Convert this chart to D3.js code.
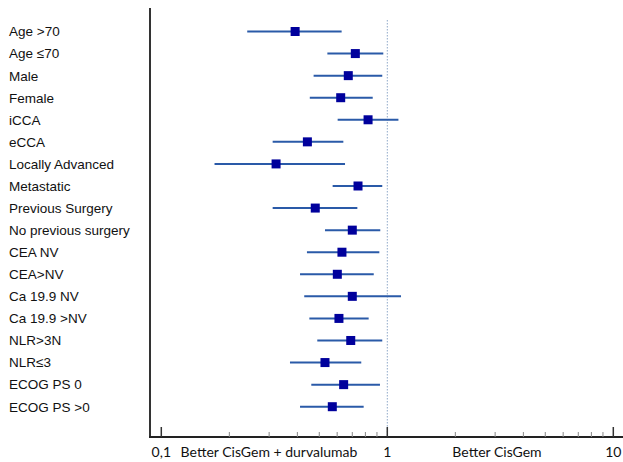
<!DOCTYPE html>
<html><head><meta charset="utf-8">
<script src="https://cdn.jsdelivr.net/npm/d3@7"></script>
<style>body{margin:0;background:#fff}</style>
</head><body>
<svg id="c" width="623" height="462"></svg>
<script>
const categories = ["Age >70","Age ≤70","Male","Female","iCCA","eCCA","Locally Advanced","Metastatic","Previous Surgery","No previous surgery","CEA NV","CEA>NV","Ca 19.9 NV","Ca 19.9 >NV","NLR>3N","NLR≤3","ECOG PS 0","ECOG PS >0"];
const hr    = [0.391,0.722,0.672,0.622,0.822,0.443,0.322,0.742,0.480,0.700,0.630,0.601,0.700,0.611,0.689,0.530,0.641,0.571];
const lower = [0.240,0.543,0.472,0.454,0.603,0.311,0.172,0.573,0.311,0.530,0.441,0.411,0.429,0.452,0.490,0.371,0.461,0.411];
const upper = [0.628,0.960,0.950,0.862,1.120,0.639,0.650,0.950,0.737,0.931,0.922,0.871,1.150,0.827,0.950,0.767,0.928,0.786];
const majorTicks = [0.1,1,10];
const tickLabels = ["0,1","1","10"];
const axisTexts = ["Better CisGem + durvalumab","Better CisGem"];

const svg = d3.select("#c");
const x = d3.scaleLog().domain([0.1,10]).range([161.3,613.3]);
const y = d3.scalePoint().domain(categories).range([31.5,406.7]);
const axisY = 437;
const axisFont = "Lato, 'Open Sans', sans-serif";

// left vertical axis
svg.append("line").attr("x1",150).attr("x2",150).attr("y1",8).attr("y2",axisY+1)
  .attr("stroke","#333").attr("stroke-width",2);

// reference line at 1
svg.append("line").attr("x1",x(1)).attr("x2",x(1)).attr("y1",20).attr("y2",axisY)
  .attr("stroke","#8fa8c8").attr("stroke-width",1).attr("stroke-dasharray","1.5,1.5");

// bottom axis
const minor = [];
[0.1,1].forEach(d=>{for(let k=2;k<=9;k++) minor.push(d*k);});
const g = svg.append("g");
g.append("line").attr("x1",149).attr("x2",623).attr("y1",axisY).attr("y2",axisY)
  .attr("stroke","#222").attr("stroke-width",2);
g.selectAll(".mn").data(minor).join("line")
  .attr("x1",d=>x(d)).attr("x2",d=>x(d)).attr("y1",axisY-5).attr("y2",axisY)
  .attr("stroke","#888").attr("stroke-width",1);
g.selectAll(".mj").data(majorTicks).join("line")
  .attr("x1",d=>x(d)).attr("x2",d=>x(d)).attr("y1",axisY-10).attr("y2",axisY)
  .attr("stroke","#333").attr("stroke-width",1.5);
g.selectAll(".tl").data(majorTicks).join("text")
  .attr("x",d=>x(d)).attr("y",457).attr("text-anchor","middle")
  .attr("font-family",axisFont).attr("font-size",14).attr("fill","#111")
  .text((d,i)=>tickLabels[i]);
svg.append("text").attr("x",269).attr("y",457).attr("text-anchor","middle")
  .attr("font-family",axisFont).attr("font-size",14).attr("fill","#111").text(axisTexts[0]);
svg.append("text").attr("x",497).attr("y",457).attr("text-anchor","middle")
  .attr("font-family",axisFont).attr("font-size",14).attr("fill","#111").text(axisTexts[1]);

// labels
svg.selectAll(".lab").data(categories).join("text")
  .attr("x",9).attr("y",d=>y(d)).attr("dy","0.36em")
  .attr("font-family","'Liberation Sans', Arial, sans-serif").attr("font-size",13.5).attr("fill","#111")
  .text(d=>d);

// CI lines
svg.selectAll(".ci").data(categories).join("line")
  .attr("x1",(d,i)=>x(lower[i])).attr("x2",(d,i)=>x(upper[i]))
  .attr("y1",d=>y(d)).attr("y2",d=>y(d))
  .attr("stroke","#2a5aa8").attr("stroke-width",2);

// markers
const s = 9;
svg.selectAll(".pt").data(categories).join("rect")
  .attr("x",(d,i)=>x(hr[i])-s/2).attr("y",d=>y(d)-s/2)
  .attr("width",s).attr("height",s).attr("fill","#00009c");
</script>
</body></html>
